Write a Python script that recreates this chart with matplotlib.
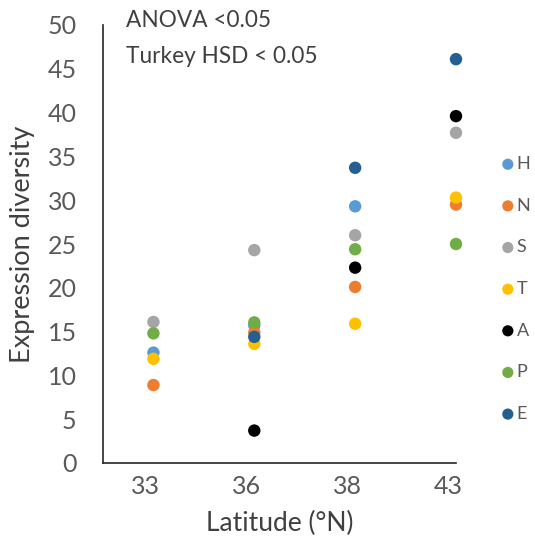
import numpy as np
import matplotlib
matplotlib.use("Agg")
import matplotlib.pyplot as plt
from matplotlib.transforms import ScaledTranslation

categories = ["33", "36", "38", "43"]
series_names = ["H", "N", "S", "T", "A", "P", "E"]
H = [12.6, 15.7, 29.3, np.nan]
N = [8.9, 14.9, 20.1, 29.5]
S = [16.1, 24.3, 26.0, 37.7]
T = [11.9, 13.6, 15.9, 30.3]
A = [np.nan, 3.7, 22.3, 39.6]
P = [14.8, 16.05, 24.4, 25.0]
E = [np.nan, 14.4, 33.7, 46.1]
series_values = [H, N, S, T, A, P, E]
colors = ["#5B9BD5", "#ED7D31", "#A5A5A5", "#FFC000", "#000000", "#70AD47", "#255E91"]
yticks = [0, 5, 10, 15, 20, 25, 30, 35, 40, 45, 50]

plt.rcParams['font.family'] = ['Lato', 'DejaVu Sans']

fig = plt.figure(figsize=(5.35, 5.52), dpi=100)
ax = fig.add_axes([103/535, 1-463/552, (456-103)/535, (463-25)/552])

xpos = np.arange(1, len(categories) + 1)
for name, vals, c in zip(series_names, series_values, colors):
    ax.scatter(xpos, vals, s=80, color=c, label=name, edgecolors='none', zorder=3, clip_on=False)

ax.set_xlim(0.5, 4.0)
ax.set_ylim(0, 50)
ax.set_xticks(xpos)
ax.set_xticklabels(categories)
ax.set_yticks(yticks)
ax.tick_params(axis='both', length=0, labelsize=18, labelcolor='#595959')
ax.tick_params(axis='x', pad=9)
ax.tick_params(axis='y', pad=19)
for lbl in ax.get_xticklabels():
    lbl.set_transform(lbl.get_transform() + ScaledTranslation(-8/100, 0, fig.dpi_scale_trans))

for sp in ['top', 'right']:
    ax.spines[sp].set_visible(False)
for sp in ['left', 'bottom']:
    ax.spines[sp].set_color('#262626')
    ax.spines[sp].set_linewidth(1.2)

ax.set_xlabel("Latitude (°N)", fontsize=19, color='#404040', labelpad=9)
ax.set_ylabel("Expression diversity", fontsize=19.5, color='#404040', labelpad=9)

fig.text(126/535, 1-27/552, "ANOVA <0.05", fontsize=16.3, color='#404040', va='baseline')
fig.text(126/535, 1-63/552, "Turkey HSD < 0.05", fontsize=16.3, color='#404040', va='baseline')

leg = fig.legend(loc='upper left', bbox_to_anchor=(497/535, 1-156/552), frameon=False,
                 fontsize=13, labelspacing=1.42, handletextpad=-0.1, markerscale=0.9,
                 borderpad=0, borderaxespad=0, handlelength=1.2)
for t in leg.get_texts():
    t.set_color('#595959')

fig.savefig("out.png", dpi=100)
